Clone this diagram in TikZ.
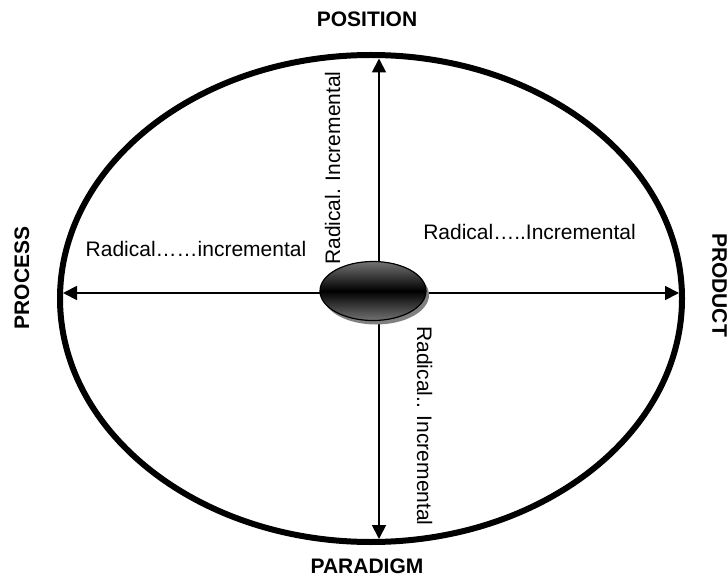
\documentclass[tikz,border=0pt]{standalone}
\usepackage{fontspec}
\setmainfont{Liberation Sans}
\usetikzlibrary{shapes.geometric,arrows.meta,shadows}

\tikzset{
  axis/.style={line width=1.8pt, {Triangle[length=14pt,width=14pt]}-{Triangle[length=14pt,width=14pt]}},
  pole/.style={font=\fontsize{21}{25}\selectfont\bfseries}
}

\begin{document}
\begin{tikzpicture}[x=1pt, y=-1pt, font=\fontsize{21}{25}\selectfont]
  \useasboundingbox (0,0) rectangle (728,577);
  \node[ellipse, draw, line width=6pt, inner sep=0pt, minimum width=622pt, minimum height=487pt] (rim) at (371,298.5) {};

  \coordinate (top) at (379,58.5);
  \coordinate (bot) at (379,539);
  \coordinate (lft) at (63,293);
  \coordinate (rgt) at (679,293);
  \foreach \from/\to in {top/bot, lft/rgt}
    \draw[axis] (\from) -- (\to);

  \node[ellipse, draw, line width=1.2pt, inner sep=0pt, minimum width=106pt, minimum height=59pt,
        top color=black!55, bottom color=black!55, middle color=black,
        drop shadow={shadow xshift=3pt, shadow yshift=-4pt, fill=black!50, opacity=1}] (hub) at (373,291) {};

  \node[pole] (pos) at (367,19.5) {POSITION};
  \node[pole] (par) at (367,566) {PARADIGM};
  \node[pole, rotate=90] (proc) at (22,278) {PROCESS};
  \node[pole, rotate=-90] (prod) at (719.5,285) {PRODUCT};

  \node[anchor=base] (qleft) at (196,257) {Radical……incremental};
  \node[anchor=base] (qright) at (529.5,240) {Radical…..Incremental};
  \node[anchor=base, rotate=90] (qup) at (340,168) {Radical. Incremental};
  \node[anchor=base, rotate=-90] (qdown) at (417,426) {Radical.. Incremental};
\end{tikzpicture}
\end{document}
